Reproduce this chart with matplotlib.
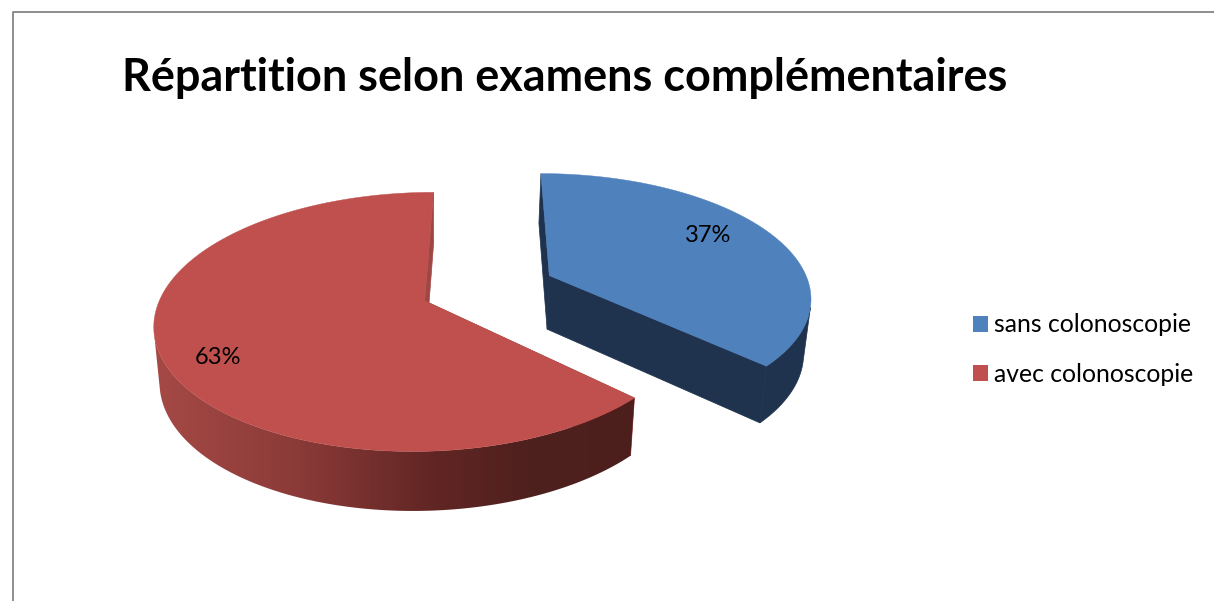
import matplotlib
matplotlib.use('Agg')
import matplotlib.pyplot as plt
from matplotlib.colors import LinearSegmentedColormap, Normalize
from matplotlib.patches import Patch, Polygon
import numpy as np

plt.rcParams['font.family'] = ['Lato', 'DejaVu Sans']

##############################################################################
# data

title = 'Répartition selon examens complémentaires'
categories = ['sans colonoscopie', 'avec colonoscopie']
shares = [37, 63]
top_colors = ['#4f81bd', '#bf504d']

##############################################################################
# projection of the tilted disc onto the canvas (pixel coordinates)

W, H = 1214, 601
CX, CY = 488, 288      # disc centre
RX, RY = 261, 122      # radii before perspective
PERSP = 0.16           # foreshortening towards the back
EXPLODE = 0.26         # how far each slice is pulled out
SHRINK = 0.98          # lower rim is a bit smaller
SHRINK_X = 440
DEPTH = 54             # disc thickness

# side shading of the red slice, light on the left and dark on the right
shade_x = [150, 300, 430, 530, 650]
shade_colors = ['#a64a46', '#8a3a38', '#622624', '#4e201e', '#4c1f1d']


def project(x, y):
    w = 1 + PERSP * y
    return CX + RX * x / w, CY - RY * y / w


def project_low(x, y):
    w = 1 + PERSP * y
    px, py = project(x, y)
    return SHRINK_X + (px - SHRINK_X) * SHRINK, py + DEPTH * w ** -0.5


def draw_slice(ax, start, sweep, face, wall, shaded=False):
    # angles in degrees, clockwise from the back of the disc
    mid = np.radians(90 - (start + sweep / 2))
    ox, oy = EXPLODE * np.cos(mid), EXPLODE * np.sin(mid)
    t = np.radians(90 - np.linspace(start, start + sweep, 360))
    xs, ys = ox + np.cos(t), oy + np.sin(t)
    top_x, top_y = project(xs, ys)
    low_x, low_y = project_low(xs, ys)
    ax_top, ay_top = project(ox, oy)
    ax_low, ay_low = project_low(ox, oy)

    # cut face at the start of the sweep
    ax.fill([top_x[0], ax_top, ax_low, low_x[0]],
            [top_y[0], ay_top, ay_low, low_y[0]], color=wall, lw=0.5, zorder=2)

    # outer rim, only the stretch that faces the viewer
    cross = np.gradient(top_x) * (low_y - top_y) - np.gradient(top_y) * (low_x - top_x)
    near = np.argmax(top_y)
    seen = np.sign(cross) == np.sign(cross[near])
    i0, i1 = near, near
    while i0 > 0 and seen[i0 - 1]:
        i0 -= 1
    while i1 < len(t) - 1 and seen[i1 + 1]:
        i1 += 1
    rim_x = np.r_[top_x[i0:i1 + 1], low_x[i0:i1 + 1][::-1]]
    rim_y = np.r_[top_y[i0:i1 + 1], low_y[i0:i1 + 1][::-1]]
    if shaded:
        stops = Normalize(shade_x[0], shade_x[-1])(shade_x)
        cmap = LinearSegmentedColormap.from_list('rim', list(zip(stops, shade_colors)))
        gradient = np.linspace(0, 1, 512).reshape(1, -1)
        img = ax.imshow(gradient, cmap=cmap, aspect='auto', zorder=3,
                        extent=[shade_x[0], shade_x[-1], rim_y.max() + 2, rim_y.min() - 2])
        img.set_clip_path(Polygon(np.c_[rim_x, rim_y], transform=ax.transData))
    else:
        ax.fill(rim_x, rim_y, color=wall, lw=0.5, zorder=3)

    # cut face at the end of the sweep
    ax.fill([top_x[-1], ax_top, ax_low, low_x[-1]],
            [top_y[-1], ay_top, ay_low, low_y[-1]], color=wall, lw=0.5, zorder=3.5)

    # top face
    ax.fill(np.r_[ax_top, top_x], np.r_[ay_top, top_y],
            color=face, lw=0.3, zorder=4)


##############################################################################
# plot

fig = plt.figure(figsize=(W / 100, H / 100), dpi=100)
ax = fig.add_axes([0, 0, 1, 1])

# chart frame, only the top and left edges are on the canvas
ax.plot([13, 13, W], [H, 12, 12], color='#858585', lw=1.3, zorder=1)

sweeps = [360 * s / sum(shares) for s in shares]
draw_slice(ax, 0, sweeps[0], top_colors[0], '#1f334e')
draw_slice(ax, sweeps[0], sweeps[1], top_colors[1], '#a04744', shaded=True)

ax.set_xlim(0, W)
ax.set_ylim(H, 0)
ax.axis('off')

ax.text(121.5, 91, title, fontsize=32.4, fontweight='bold', color='black',
        ha='left', va='baseline')

ax.text(708, 235, '%d%%' % shares[0], fontsize=17, ha='center', va='center', zorder=5)
ax.text(218, 357.5, '%d%%' % shares[1], fontsize=17, ha='center', va='center', zorder=5)

handles = [Patch(facecolor=c, edgecolor='none') for c in top_colors]
ax.legend(handles, categories, loc='upper left',
          bbox_to_anchor=(966 / W, 1 - 306 / H), frameon=False, fontsize=17.8,
          handlelength=0.61, handleheight=0.61, handletextpad=0.24,
          labelspacing=1.06, borderpad=0.3, borderaxespad=0)

fig.savefig('out.png', dpi=100)
